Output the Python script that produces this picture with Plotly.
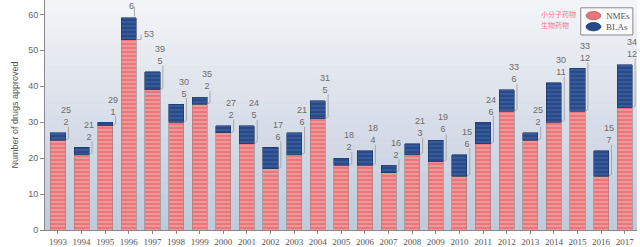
import plotly.graph_objects as go

# FDA approvals per year: new molecular entities (NMEs) and biologics (BLAs)
years = [1993, 1994, 1995, 1996, 1997, 1998, 1999, 2000, 2001, 2002, 2003, 2004,
         2005, 2006, 2007, 2008, 2009, 2010, 2011, 2012, 2013, 2014, 2015, 2016, 2017]
nmes = [25, 21, 29, 53, 39, 30, 35, 27, 24, 17, 21, 31,
        18, 18, 16, 21, 19, 15, 24, 33, 25, 30, 33, 15, 34]
blas = [2, 2, 1, 6, 5, 5, 2, 2, 5, 6, 6, 5,
        2, 4, 2, 3, 6, 6, 6, 6, 2, 11, 12, 7, 12]
series_names = ["NMEs", "BLAs"]
series_cn = ["小分子药物", "生物药物"]

Y_MAX = 64
BAR_W = 0.64
LABEL_COLOR = "#6b6b6b"
LINE_COLOR = "#9a9a9a"
NME_COLOR, NME_STRIPE = "#e9767a", "#fbd3cf"
BLA_COLOR, BLA_STRIPE = "#284a88", "#5a7fbd"

xs = list(range(len(years)))
fig = go.Figure()

# vertical gradient behind the plotting area
n_bands = 32
top_rgb = (242, 244, 248)
bot_rgb = (192, 202, 218)
for k in range(n_bands):
    t = k / (n_bands - 1)
    c = tuple(round(bot_rgb[j] + (top_rgb[j] - bot_rgb[j]) * t) for j in range(3))
    fig.add_shape(type="rect", xref="paper", yref="paper",
                  x0=0, x1=1, y0=k / n_bands, y1=(k + 1) / n_bands + 0.002,
                  fillcolor=f"rgb{c}", line_width=0, layer="below")

fig.add_trace(go.Bar(
    x=xs, y=nmes, name=series_names[0], width=BAR_W,
    marker=dict(color=NME_COLOR,
                line=dict(color="#9b7f86", width=0.6),
                pattern=dict(shape="-", fgcolor=NME_STRIPE, size=4,
                             solidity=0.35, fillmode="overlay")),
    hovertemplate="%{customdata}: %{y} NMEs<extra></extra>", customdata=years,
))
fig.add_trace(go.Bar(
    x=xs, y=blas, name=series_names[1], width=BAR_W,
    marker=dict(color=BLA_COLOR,
                line=dict(color="#1c3360", width=0.6),
                pattern=dict(shape="-", fgcolor=BLA_STRIPE, size=4,
                             solidity=0.3, fillmode="overlay")),
    hovertemplate="%{customdata}: %{y} BLAs<extra></extra>", customdata=years,
))

annotations = []
shapes = []
half = BAR_W / 2
for i, (n, b) in enumerate(zip(nmes, blas)):
    total = n + b
    lx = i + half + 0.12      # x of the vertical leader line
    if total + 6.5 > Y_MAX:
        # not enough headroom: BLA count above the bar, NME count beside it
        annotations.append(dict(x=i + 0.12, y=total + 3.2, text=str(b), xanchor="center",
                                yanchor="middle", showarrow=False))
        shapes.append(dict(type="line", x0=i + 0.24, x1=i + 0.24,
                           y0=total + 3.0, y1=total + 0.4))
        annotations.append(dict(x=i + half + 0.55, y=n + 1.6, text=str(n), xanchor="center",
                                yanchor="middle", showarrow=False))
        shapes.append(dict(type="line", x0=i + half + 0.2, x1=i + half + 0.2,
                           y0=n + 1.4, y1=n))
        shapes.append(dict(type="line", x0=i + half, x1=i + half + 0.2, y0=n, y1=n))
        continue
    annotations.append(dict(x=i + half, y=total + 1.3, text=f"{n}<br>{b}",
                            xanchor="center", yanchor="bottom", align="center",
                            showarrow=False, borderpad=0))
    shapes.append(dict(type="line", x0=lx, x1=lx, y0=total + 1.7, y1=n + 0.5))
    shapes.append(dict(type="line", x0=lx, x1=i + half, y0=n + 0.5, y1=n))

for a in annotations:
    a.update(xref="x", yref="y",
             font=dict(family="Liberation Sans", size=9, color=LABEL_COLOR))
for s in shapes:
    s.update(xref="x", yref="y", line=dict(color=LINE_COLOR, width=0.8), layer="above")

# legend box drawn in paper coordinates
lg_x0, lg_x1, lg_y0, lg_y1 = 0.905, 0.993, 0.848, 0.966
shapes.append(dict(type="rect", xref="paper", yref="paper",
                   x0=lg_x0, x1=lg_x1, y0=lg_y0, y1=lg_y1,
                   fillcolor="rgba(255,255,255,0.75)",
                   line=dict(color="#8a8a8a", width=1), layer="above"))
legend_rows = [(0.932, NME_COLOR, "#b05a60"), (0.884, BLA_COLOR, "#1c3360")]
for (yc, fill, edge), name, cn in zip(legend_rows, series_names, series_cn):
    shapes.append(dict(type="circle", xref="paper", yref="paper",
                       x0=lg_x0 + 0.009, x1=lg_x0 + 0.034, y0=yc - 0.018, y1=yc + 0.018,
                       fillcolor=fill, line=dict(color=edge, width=0.8), layer="above"))
    annotations.append(dict(xref="paper", yref="paper", x=lg_x0 + 0.039, y=yc,
                            xanchor="left", yanchor="middle", text=name, showarrow=False,
                            font=dict(family="Liberation Serif", size=9, color="#555555")))
    # Chinese caption to the left of the legend
    annotations.append(dict(xref="paper", yref="paper", x=0.835, y=yc + 0.008,
                            xanchor="left", yanchor="middle", text=cn, showarrow=False,
                            font=dict(family="Noto Sans CJK SC", size=7, color="#ee7c8a")))

for s in shapes:
    fig.add_shape(**s)

fig.update_layout(
    width=640, height=247,
    margin=dict(l=45, r=3, t=0, b=15),
    barmode="stack",
    paper_bgcolor="white",
    plot_bgcolor="rgba(0,0,0,0)",
    showlegend=False,
    annotations=annotations,
    xaxis=dict(
        tickmode="array", tickvals=xs, ticktext=[str(y) for y in years],
        range=[-0.55, len(years) - 0.48],
        showline=True, linecolor="#8a8a8a", linewidth=1,
        ticks="outside", ticklen=3, tickcolor="#8a8a8a",
        tickfont=dict(family="Liberation Serif", size=9, color="#555555"),
        showgrid=False, zeroline=False,
    ),
    yaxis=dict(
        range=[0, Y_MAX], tickvals=[0, 10, 20, 30, 40, 50, 60],
        showline=True, linecolor="#8a8a8a", linewidth=1,
        ticks="outside", ticklen=4, tickcolor="#8a8a8a",
        tickfont=dict(family="Liberation Sans", size=9, color="#666666"),
        title=dict(text="Number of drugs approved", standoff=8,
                   font=dict(family="Liberation Sans", size=9, color="#555555")),
        showgrid=False, zeroline=False,
    ),
)

fig.write_html("out.html")
